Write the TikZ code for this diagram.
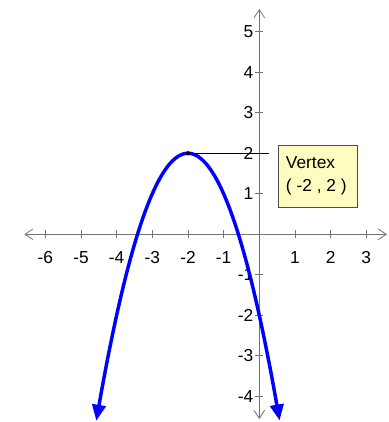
\documentclass[tikz,border=0pt]{standalone}
\usepackage{fontspec}
\setmainfont{Liberation Sans}
\usetikzlibrary{arrows.meta}
\begin{document}
\begin{tikzpicture}[x=26.75pt,y=30.375pt,
  axisline/.style={draw=gray!90!black, line width=0.6pt, {Straight Barb[length=6pt,width=8pt]}-{Straight Barb[length=6pt,width=8pt]}},
  tickline/.style={draw=gray!90!black, line width=0.6pt},
  ticklbl/.style={font=\fontsize{13}{15}\selectfont, inner sep=0pt},
  curveline/.style={draw=blue, line width=2.6pt, {Triangle[length=12pt,width=10pt]}-{Triangle[length=12pt,width=10pt]}},
  vbox/.style={draw=black!70, fill=yellow!25, line width=0.5pt, anchor=north west,
    minimum width=59.25pt, minimum height=46.5pt, inner sep=0pt},
  vtext/.style={anchor=west, inner sep=0pt, align=left, font=\fontsize{13}{17.25}\selectfont}
]
\useasboundingbox (-7.27,-4.635) rectangle (3.636,5.785);
\coordinate (xl) at (-6.59,0);
\coordinate (xr) at (3.58,0);
\coordinate (yb) at (0,-4.56);
\coordinate (yt) at (0,5.56);
\draw[axisline] (xl) -- (xr);
\draw[axisline] (yb) -- (yt);
\foreach \i in {-6,-5,-4,-3,-2,-1,1,2,3} {
  \draw[tickline] (\i,0) ++(0,-3pt) -- ++(0,6pt);
  \node[ticklbl, anchor=base] (xt\i) at ([yshift=-21.6pt]\i,0) {\i};
}
\foreach \i in {-4,-3,-2,-1,1,2,3,4,5} {
  \draw[tickline] (0,\i) ++(-3pt,0) -- ++(6pt,0);
  \node[ticklbl, anchor=east] (yt\i) at ([xshift=-4.3pt]0,\i) {\i};
}
\draw[curveline, domain=-4.57:0.57, samples=120, smooth] plot (\x, {-(\x+2)*(\x+2)+2});
\coordinate (vx) at (-2,2);
\coordinate (hl) at (0.27,2);
\draw[black, line width=0.6pt] (vx) -- (hl);
\fill[black] (vx) circle (1.6pt);
\node[vbox] (box) at (0.516,2.205) {};
\node[vtext] (boxtext) at ([xshift=6pt,yshift=0.5pt]box.west) {Vertex\\( -2 , 2 )};
\end{tikzpicture}
\end{document}
